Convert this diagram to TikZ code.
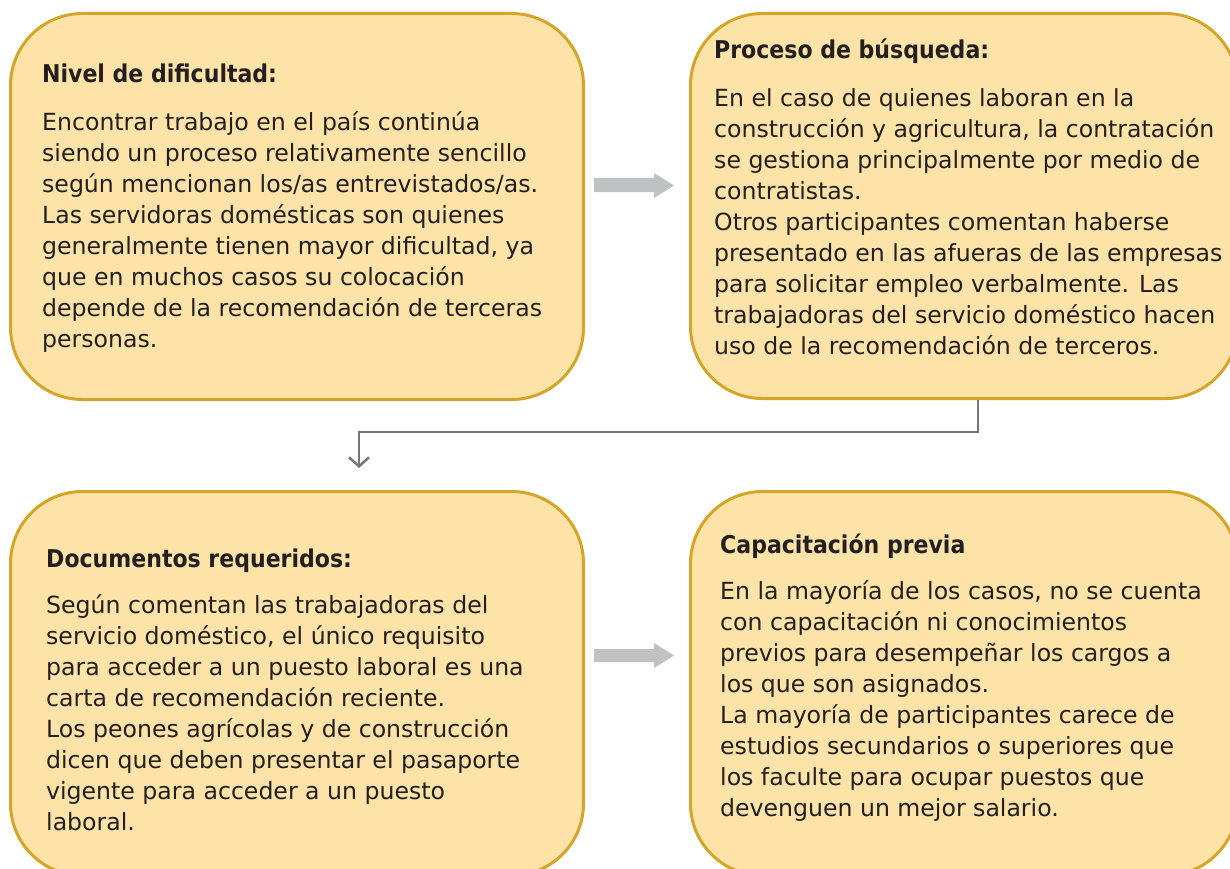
\documentclass[tikz,border=0pt]{standalone}
\usepackage{fontspec}
\setmainfont{DejaVu Sans}
\newfontfamily\condfont{DejaVu Sans Condensed}
\usetikzlibrary{arrows.meta}
\definecolor{boxfill}{HTML}{FDE3A7}
\definecolor{boxline}{HTML}{D4A529}
\definecolor{arrgray}{HTML}{C0C1C3}
\definecolor{conngray}{HTML}{767676}
\definecolor{txt}{HTML}{231F20}
\begin{document}
\begin{tikzpicture}[x=1pt,y=-1pt,
  panel/.style={draw=boxline, line width=3pt, fill=boxfill, rounded corners=72pt,
    inner sep=0pt, anchor=north west},
  ttl/.style={anchor=base west, inner sep=0pt, text=txt,
    font=\condfont\fontsize{24.5}{31}\selectfont\bfseries},
  body/.style={anchor=base west, inner sep=0pt, text=txt, align=left,
    font=\fontsize{23.6}{31}\selectfont},
  blockarrow/.style={fill=arrgray},
  conn/.style={draw=conngray, line width=2.5pt,
    -{Straight Barb[length=9pt,width=20pt]}}]
\useasboundingbox (0,0) rectangle (1230,869);
\clip (0,0) rectangle (1230,869);
\fill[white] (0,0) rectangle (1230,869);

\node[panel, minimum width=573pt, minimum height=386pt] (b1) at (9,12) {};
\node[panel, minimum width=547pt, minimum height=385pt] (b2) at (689,12) {};
\node[panel, minimum width=573pt, minimum height=384pt] (b3) at (9,490) {};
\node[panel, minimum width=547pt, minimum height=384pt] (b4) at (689,490) {};

\node[ttl] (t1) at (42,83) {Nivel de dificultad:};
\node[body] (p1) at (42,347) {Encontrar trabajo en el país continúa\\
siendo un proceso relativamente sencillo\\
según mencionan los/as entrevistados/as.\\
Las servidoras domésticas son quienes\\
generalmente tienen mayor dificultad, ya\\
que en muchos casos su colocación\\
depende de la recomendación de terceras\\
personas.};

\node[ttl] (t2) at (714,59) {Proceso de búsqueda:};
\node[body] (p2) at (714,354) {En el caso de quienes laboran en la\\
construcción y agricultura, la contratación\\
se gestiona principalmente por medio de\\
contratistas.\\
Otros participantes comentan haberse\\
presentado en las afueras de las empresas\\
para solicitar empleo verbalmente. Las\\
trabajadoras del servicio doméstico hacen\\
uso de la recomendación de terceros.};

\node[ttl] (t3) at (46,567) {Documentos requeridos:};
\node[body] (p3) at (46,830) {Según comentan las trabajadoras del\\
servicio doméstico, el único requisito\\
para acceder a un puesto laboral es una\\
carta de recomendación reciente.\\
Los peones agrícolas y de construcción\\
dicen que deben presentar el pasaporte\\
vigente para acceder a un puesto\\
laboral.};

\node[ttl] (t4) at (720,553) {Capacitación previa};
\node[body] (p4) at (720,816) {En la mayoría de los casos, no se cuenta\\
con capacitación ni conocimientos\\
previos para desempeñar los cargos a\\
los que son asignados.\\
La mayoría de participantes carece de\\
estudios secundarios o superiores que\\
los faculte para ocupar puestos que\\
devenguen un mejor salario.};

\fill[blockarrow] (594,178) -- (654,178) -- (654,173) -- (674,185.5) -- (654,198)
  -- (654,192) -- (594,192) -- cycle;
\fill[blockarrow] (594,649) -- (654,649) -- (654,643) -- (674,655.5) -- (654,668)
  -- (654,662) -- (594,662) -- cycle;

\coordinate (turn) at (978,432);
\coordinate (tip) at (359,468);
\draw[conn] (b2.south -| turn) -- (turn) -| (tip);
\end{tikzpicture}
\end{document}
